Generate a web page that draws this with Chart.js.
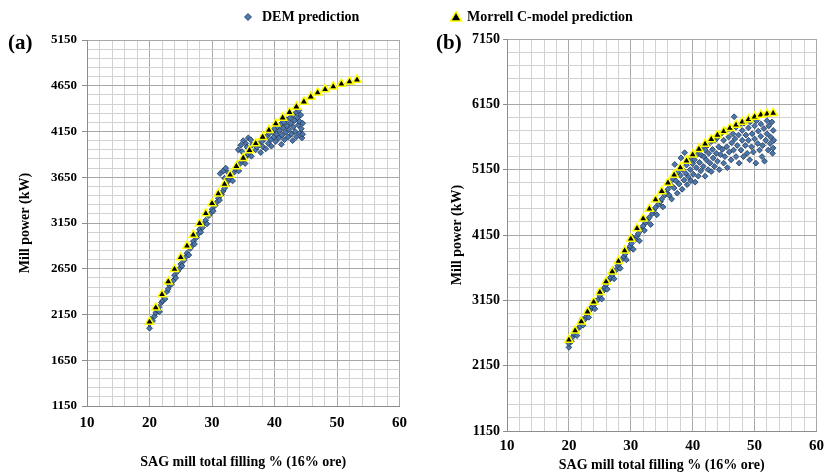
<!DOCTYPE html>
<html>
<head>
  <meta charset="utf-8" />
  <title>Mill power vs SAG mill filling</title>
  <script src="https://cdn.jsdelivr.net/npm/chart.js"></script>
  <style>
    html, body {
      margin: 0;
      padding: 0;
      background: #fff;
      font-family: "Liberation Serif", "Times New Roman", serif;
    }
    .page {
      position: relative;
      width: 830px;
      height: 475px;
      overflow: hidden;
    }
    .panel {
      position: absolute;
      top: 0;
    }
    #chartA { left: 0; }
    #chartB { left: 415px; }
    .tag {
      position: absolute;
      font-weight: bold;
      font-size: 21px;
      line-height: 21px;
    }
    .legendItem {
      position: absolute;
      top: 8px;
      font-weight: bold;
      font-size: 14px;
      line-height: 17px;
    }
    .legendItem svg {
      position: absolute;
    }
  </style>
</head>
<body>
  <div class="page">
    <canvas id="chartA" class="panel" width="415" height="475"></canvas>
    <canvas id="chartB" class="panel" width="415" height="475"></canvas>

    <div class="tag" style="left:8px; top:32px;">(a)</div>
    <div class="tag" style="left:436px; top:32px;">(b)</div>

    <!-- gemeinsame Legende oben -->
    <div class="legendItem" style="left:262px;">
      <svg width="10" height="10" style="left:-19px; top:4px;">
        <polygon points="5,1.5 8.5,5 5,8.5 1.5,5" fill="#4a78ae" stroke="#1f3350" stroke-width="0.8"/>
      </svg>
      DEM prediction
    </div>
    <div class="legendItem" style="left:467px;">
      <svg width="14" height="13" style="left:-18px; top:2px;">
        <polygon points="7,1.5 12.5,11 1.5,11" fill="#000" stroke="#ffff00" stroke-width="1.5"/>
      </svg>
      Morrell C-model prediction
    </div>
  </div>

  <script>
    // Achsen (Hauptteilung), Nebenlinien werden in 5 Teile geteilt
    const xMajor = [10, 20, 30, 40, 50, 60];
    const yMajorA = [1150, 1650, 2150, 2650, 3150, 3650, 4150, 4650, 5150];
    const yMajorB = [1150, 2150, 3150, 4150, 5150, 6150, 7150];

    // Panel (a) - Morrell C-model
    const morrellA = [
      [20,2070],[21,2225],[22,2370],[23,2510],[24,2645],[25,2775],[26,2900],[27,3020],
      [28,3145],[29,3255],[30,3365],[31,3470],[32,3575],[32.9,3675],[33.9,3770],[35,3860],
      [36,3945],[37,4020],[38.1,4090],[39.1,4165],[40.2,4235],[41.3,4300],[42.4,4360],
      [43.5,4420],[44.7,4475],[45.8,4530],[46.9,4575],[48.1,4610],[49.4,4640],[50.7,4670],
      [52,4695],[53.2,4715]
    ];

    // Panel (a) - DEM
    const demA = [
      [20.0,2000],[20.0,2050],[20.2,2100],[20.5,2080],[20.8,2130],[21.0,2170],[21.2,2200],[21.5,2230],
      [21.6,2180],[21.9,2280],[22.1,2300],[22.3,2340],[22.5,2320],[22.8,2400],[23.0,2430],[23.2,2470],
      [23.5,2480],[23.8,2520],[24.0,2580],[24.2,2550],[24.5,2620],[24.8,2650],[25.0,2700],[25.2,2680],
      [25.5,2740],[25.8,2780],[26.0,2820],[26.3,2800],[26.5,2870],[26.8,2900],[27.0,2950],[27.2,2920],
      [27.5,2990],[27.8,3030],[28.0,3080],[28.2,3050],[28.5,3100],[28.8,3150],[29.0,3180],[29.2,3140],
      [29.5,3230],[29.8,3260],[30.0,3300],[30.2,3280],[30.5,3340],[30.8,3380],[31.0,3420],[31.2,3400],
      [31.5,3460],[31.8,3500],[31.3,3690],[31.8,3720],[32.2,3750],[32.6,3700],[32.0,3640],
      [32.0,3530],[32.3,3560],[32.5,3600],[32.8,3630],[33.0,3650],[33.3,3610],[33.5,3700],[33.8,3740],
      [34.0,3760],[34.3,3720],[34.5,3800],[34.8,3830],[35.0,3850],[35.3,3800],[35.5,3880],[35.8,3900],
      [36.0,3920],[36.3,3880],[34.2,3950],[34.6,4000],[35.0,4050],[35.4,4020],[35.8,4080],[36.2,4060],
      [34.8,3930],[35.6,3980],[36.4,4000],
      [37.0,3950],[37.2,3980],[37.5,4010],[37.8,3920],[38.0,4040],[38.2,3980],[38.4,4070],[38.6,3960],
      [38.8,4100],[39.0,4020],[39.2,4130],[39.4,4060],[39.5,3990],[39.7,4150],[39.9,4090],[40.0,4180],
      [40.2,4040],[40.3,4120],[40.5,4200],[40.7,4080],[40.8,4160],[41.0,4230],[41.1,4010],[41.2,4110],
      [41.4,4190],[41.5,4250],[41.6,4060],[41.8,4140],[42.0,4280],[42.0,4210],[42.2,4090],[42.3,4170],
      [42.5,4300],[42.6,4240],[42.7,4120],[42.9,4050],[43.0,4330],[43.0,4200],[43.2,4270],[43.3,4150],
      [43.5,4360],[43.5,4090],[43.7,4300],[43.8,4220],[43.9,4380],[44.0,4130],[44.0,4260],[44.2,4330],
      [44.3,4180],[44.4,4080],[44.5,4240],[44.5,4120]
    ];

    // Panel (b) - Morrell C-model
    const morrellB = [
      [20,2545],[21,2685],[22,2825],[23,2975],[24,3125],[25,3275],[26,3435],[27,3590],
      [28,3750],[29,3910],[30,4090],[31,4250],[32,4400],[33,4550],[34,4690],[35,4820],
      [36,4950],[37,5070],[38,5180],[39,5285],[40,5380],[41,5465],[42,5545],[43,5615],
      [44,5680],[45,5735],[46,5785],[47,5835],[48,5880],[49,5920],[50,5960],[51,5990],
      [52,6005],[53,6015]
    ];

    // Panel (b) - DEM
    const demB = [
      [20.0,2430],[20.0,2490],[20.1,2540],[20.4,2520],[20.6,2590],[20.9,2630],[21.1,2670],[21.3,2610],
      [21.5,2720],[21.8,2750],[22.0,2800],[22.1,2860],[22.3,2770],[22.6,2860],[22.8,2900],[23.0,2940],
      [23.2,2890],[23.5,3010],[23.7,3050],[24.0,3080],[24.2,3020],[24.4,3140],[24.7,3160],[25.0,3220],
      [25.1,3300],[25.3,3170],[25.6,3300],[25.8,3350],[26.0,3390],[26.2,3320],[26.5,3460],[26.7,3500],
      [27.0,3540],[27.1,3620],[27.3,3480],[27.6,3610],[27.9,3680],[28.1,3710],[28.3,3640],[28.6,3780],
      [28.9,3820],[29.1,3860],[29.3,3770],[29.6,3930],[29.9,3980],[30.1,4020],[30.2,4120],[30.4,3930],
      [30.7,4080],[31.0,4130],[31.2,4170],[31.4,4060],[31.7,4230],[32.0,4290],[32.2,4220],[32.4,4340],
      [32.7,4380],[33.0,4420],[33.2,4310],[33.5,4480],[33.7,4530],[34.0,4570],[34.2,4460],[34.5,4620],
      [34.8,4660],[35.0,4700],[35.2,4580],[35.5,4760],[35.8,4790],
      [36.0,4850],[36.2,4760],[36.4,4920],[36.6,4700],[36.8,5000],[37.0,4870],[37.1,5230],[37.3,4980],
      [37.5,4790],[37.6,5110],[37.8,4930],[38.0,5060],[38.1,5330],[38.3,4850],[38.4,5150],[38.6,4990],
      [38.7,5410],[38.9,5090],[39.0,5220],[39.1,4920],[39.3,5040],[39.4,5290],[39.6,5150],[39.7,4980],
      [39.9,5350],[40.0,5240],[40.1,5080],[40.3,5300],[40.4,4960],[40.6,5180],[40.7,5380],[40.9,5050],
      [41.0,5440],[41.1,5260],[41.3,5130],[41.4,5370],
      [41.5,5500],[41.7,5200],[41.8,5350],[42.0,5450],[42.0,5050],[42.2,5300],[42.4,5520],[42.5,5150],
      [42.6,5400],[42.8,5250],[43.0,5580],[43.0,5120],[43.2,5460],[43.3,5330],[43.5,5200],[43.6,5600],
      [43.8,5400],[44.0,5280],[44.0,5640],[44.2,5500],[44.3,5150],[44.5,5380],[44.6,5700],[44.8,5460],
      [45.0,5250],[45.0,5600],[45.2,5350],[45.3,5740],[45.5,5500],[45.6,5180],[45.8,5650],[45.9,5420],
      [46.0,5780],[46.2,5300],[46.3,5560],[46.5,5700],[46.6,5450],[46.7,5960],[46.8,5620],[47.0,5350],
      [47.0,5800],[47.2,5520],[47.4,5680],[47.5,5250],[47.6,5840],[47.8,5450],[48.0,5600],[48.0,5750],
      [48.2,5350],[48.3,5860],[48.5,5520],[48.6,5680],[48.8,5400],[49.0,5790],[49.0,5600],[49.2,5300],
      [49.3,5880],[49.5,5500],[49.6,5700],[49.8,5420],[50.0,5820],[50.0,5620],[50.2,5250],[50.3,5900],
      [50.5,5550],[50.6,5740],[50.8,5450],[51.0,5850],[51.0,5660],[51.2,5350],[51.3,5520],[51.5,5780],
      [51.6,5280],[51.8,5600],[52.0,5900],[52.0,5700],[52.2,5450],[52.3,5820],[52.5,5550],[52.6,5650],
      [52.8,5880],[53.0,5750],[53.0,5480],[53.1,5600],[52.9,5400]
    ];

    const FONT = '"Liberation Serif", "Times New Roman", serif';

    // Haupt- + Nebenteilung (5 Teile je Hauptintervall)
    function buildTicks(major, parts) {
      const out = [];
      for (let i = 0; i < major.length - 1; i++) {
        const step = (major[i + 1] - major[i]) / parts;
        for (let k = 0; k < parts; k++) out.push(major[i] + k * step);
      }
      out.push(major[major.length - 1]);
      return out;
    }

    const toXY = arr => arr.map(p => ({ x: p[0], y: p[1] }));

    function makeChart(canvasId, dem, morrell, yMajor, box) {
      const canvas = document.getElementById(canvasId);
      const W = canvas.width, H = canvas.height;
      const gridColor = major => ctx => major.includes(ctx.tick.value) ? '#a8a8a8' : '#d2d2d2';

      return new Chart(canvas.getContext('2d'), {
        type: 'scatter',
        data: {
          datasets: [
            {
              label: 'DEM prediction',
              data: toXY(dem),
              pointStyle: 'rectRot',
              pointRadius: 2.9,
              backgroundColor: '#4a78ae',
              borderColor: '#1f3350',
              borderWidth: 0.8,
              order: 2
            },
            {
              label: 'Morrell C-model prediction',
              data: toXY(morrell),
              pointStyle: 'triangle',
              pointRadius: 4.8,
              backgroundColor: '#000',
              borderColor: '#ffff00',
              borderWidth: 1.5,
              order: 1
            }
          ]
        },
        options: {
          responsive: false,
          animation: false,
          layout: {
            padding: { left: 0, top: box.top, right: W - box.right, bottom: 0 }
          },
          plugins: {
            legend: { display: false },
            tooltip: { enabled: false }
          },
          scales: {
            x: {
              type: 'linear',
              min: xMajor[0],
              max: xMajor[xMajor.length - 1],
              afterBuildTicks: s => { s.ticks = buildTicks(xMajor, 5).map(v => ({ value: v })); },
              afterFit: s => { s.height = H - box.bottom; },
              ticks: {
                autoSkip: false,
                maxRotation: 0,
                padding: box.xTickPad,
                color: '#000',
                font: { family: FONT, size: 15, weight: 'bold' },
                callback: v => xMajor.includes(v) ? String(v) : ''
              },
              grid: { color: gridColor(xMajor), lineWidth: 1, drawTicks: false },
              border: { color: '#8c8c8c' },
              title: {
                display: true,
                text: 'SAG mill total filling % (16% ore)',
                color: '#000',
                font: { family: FONT, size: 14, weight: 'bold' },
                padding: { top: 0, bottom: box.xTitlePad }
              }
            },
            y: {
              type: 'linear',
              min: yMajor[0],
              max: yMajor[yMajor.length - 1],
              afterBuildTicks: s => { s.ticks = buildTicks(yMajor, 5).map(v => ({ value: v })); },
              afterFit: s => { s.width = box.left; },
              ticks: {
                autoSkip: false,
                padding: box.yTickPad,
                color: '#000',
                font: { family: FONT, size: box.yTickSize, weight: 'bold' },
                callback: v => yMajor.includes(v) ? String(v) : ''
              },
              grid: {
                color: gridColor(yMajor),
                lineWidth: 1,
                tickLength: box.tickLen,
                tickColor: ctx => yMajor.includes(ctx.tick.value) ? '#8c8c8c' : 'rgba(0,0,0,0)'
              },
              border: { color: '#8c8c8c' },
              title: {
                display: true,
                text: 'Mill power (kW)',
                color: '#000',
                font: { family: FONT, size: 14, weight: 'bold' },
                padding: { top: box.yTitlePad, bottom: 0 }
              }
            }
          }
        }
      });
    }

    makeChart('chartA', demA, morrellA, yMajorA,
      { left: 87, right: 400, top: 40, bottom: 406, xTickPad: 8, xTitlePad: 4, yTickPad: 5, tickLen: 5, yTickSize: 13, yTitlePad: 17 });
    makeChart('chartB', demB, morrellB, yMajorB,
      { left: 92, right: 405, top: 39, bottom: 431, xTickPad: 6, xTitlePad: 1, yTickPad: 3, tickLen: 4, yTickSize: 14, yTitlePad: 34 });
  </script>
</body>
</html>
